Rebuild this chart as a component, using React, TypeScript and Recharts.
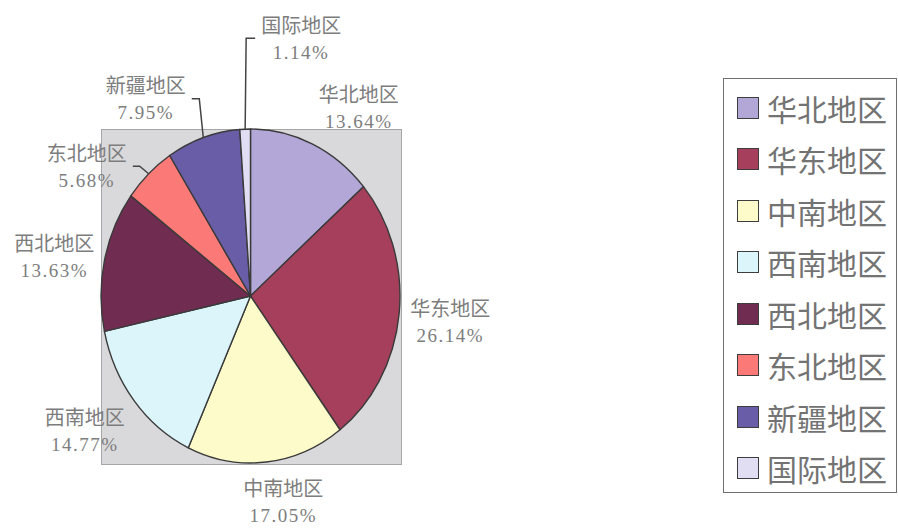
import React from "react";
import { PieChart, Pie, Cell, Legend } from "recharts";

const regions = ["华北地区", "华东地区", "中南地区", "西南地区", "西北地区", "东北地区", "新疆地区", "国际地区"];
const shares = [13.64, 26.14, 17.05, 14.77, 13.63, 5.68, 7.95, 1.14];
const colors = ["#b3a7d8", "#a53f5c", "#fdfbc9", "#dcf5fb", "#702d51", "#fb7a77", "#6a5da8", "#e1ddf3"];

const data = regions.map((name, i) => ({ name, value: shares[i] }));

// the scanned pie is a little narrower than tall
const SQUASH = 0.895;
const RAD = Math.PI / 180;

// hand placement of labels, relative to the default spot on the mid angle
const labelNudge: Record<string, { dx: number; dy: number; bend?: number }> = {
  华北地区: { dx: 23, dy: 3 },
  华东地区: { dx: -4, dy: 3 },
  中南地区: { dx: 11, dy: -3 },
  西南地区: { dx: -6, dy: 3 },
  西北地区: { dx: 4, dy: 5 },
  东北地区: { dx: -24, dy: 24, bend: -9 },
  新疆地区: { dx: -40, dy: 2, bend: -4 },
  国际地区: { dx: 58, dy: -48, bend: 1 },
};

const pt = (cx: number, cy: number, rx: number, ry: number, deg: number) => [
  cx + rx * Math.cos(deg * RAD),
  cy - ry * Math.sin(deg * RAD),
];

function EllipseSector(props: any) {
  const { cx, cy, outerRadius, startAngle, endAngle, fill } = props;
  const rx = outerRadius * SQUASH;
  const ry = outerRadius;
  const [x1, y1] = pt(cx, cy, rx, ry, startAngle);
  const [x2, y2] = pt(cx, cy, rx, ry, endAngle);
  const large = Math.abs(endAngle - startAngle) > 180 ? 1 : 0;
  const sweep = startAngle > endAngle ? 1 : 0;
  return (
    <path
      d={`M${cx},${cy}L${x1},${y1}A${rx},${ry} 0 ${large} ${sweep} ${x2},${y2}Z`}
      fill={fill}
      stroke="#3a3a3a"
      strokeWidth={1.4}
      strokeLinejoin="round"
    />
  );
}

function renderLabel(props: any) {
  const { cx, cy, midAngle, outerRadius, name, value } = props;
  const n = labelNudge[name] || { dx: 0, dy: 0 };
  const [bx, by] = pt(cx, cy, 205, 210, midAngle);
  const lx = bx + n.dx;
  const ly = by + n.dy;
  let leader = null;
  if (n.bend !== undefined) {
    const [ex, ey] = pt(cx, cy, outerRadius * SQUASH, outerRadius, midAngle);
    const kx = ex + n.bend;
    const endX = lx > kx ? lx - 46 : lx + 46;
    leader = (
      <polyline
        points={`${ex},${ey} ${kx},${ly} ${endX},${ly}`}
        fill="none"
        stroke="#444"
        strokeWidth={1.5}
      />
    );
  }
  return (
    <g>
      {leader}
      <text
        x={lx}
        y={ly - 14}
        textAnchor="middle"
        dominantBaseline="central"
        fill="#7d7d7d"
        fontSize={20}
        fontFamily="Noto Sans CJK SC"
      >
        {name}
      </text>
      <text
        x={lx}
        y={ly + 14}
        textAnchor="middle"
        dominantBaseline="central"
        fill="#7d7d7d"
        fontSize={19}
        letterSpacing={1.5}
        fontFamily="Liberation Serif"
      >
        {`${Number(value).toFixed(2)}%`}
      </text>
    </g>
  );
}

function LegendBox() {
  return (
    <div
      style={{
        boxSizing: "border-box",
        width: 174,
        height: 415,
        border: "1.5px solid #707070",
        background: "#fff",
        paddingTop: 3,
      }}
    >
      {regions.map((r, i) => (
        <div key={r} style={{ height: 51.5, display: "flex", alignItems: "center" }}>
          <div
            style={{
              boxSizing: "border-box",
              width: 22,
              height: 22,
              marginLeft: 13,
              marginRight: 8,
              background: colors[i],
              border: "1.5px solid #3d3d3d",
            }}
          />
          <span style={{ fontFamily: "Noto Sans CJK SC", fontSize: 30, color: "#737373", lineHeight: 1 }}>{r}</span>
        </div>
      ))}
    </div>
  );
}

export default function App() {
  return (
    <div style={{ position: "absolute", left: 0, top: 0, width: 898, height: 530, background: "#fff" }}>
      <div
        style={{
          position: "absolute",
          left: 101,
          top: 129,
          width: 301,
          height: 336,
          boxSizing: "border-box",
          background: "#d9d9db",
          border: "1px solid #a6a6a8",
        }}
      />
      <PieChart
        width={898}
        height={530}
        margin={{ top: 0, right: 0, bottom: 0, left: 0 }}
        style={{ position: "absolute", left: 0, top: 0 }}
      >
        <Pie
          data={data}
          dataKey="value"
          nameKey="name"
          cx={250.5}
          cy={296}
          outerRadius={167}
          startAngle={90}
          endAngle={-270}
          isAnimationActive={false}
          shape={EllipseSector}
          inactiveShape={EllipseSector}
          activeShape={EllipseSector}
          label={renderLabel}
          labelLine={false}
        >
          {data.map((d, i) => (
            <Cell key={d.name} fill={colors[i]} />
          ))}
        </Pie>
        <Legend
          content={() => <LegendBox />}
          wrapperStyle={{ position: "absolute", left: 723, top: 78, width: 174, height: 415 }}
        />
      </PieChart>
    </div>
  );
}
